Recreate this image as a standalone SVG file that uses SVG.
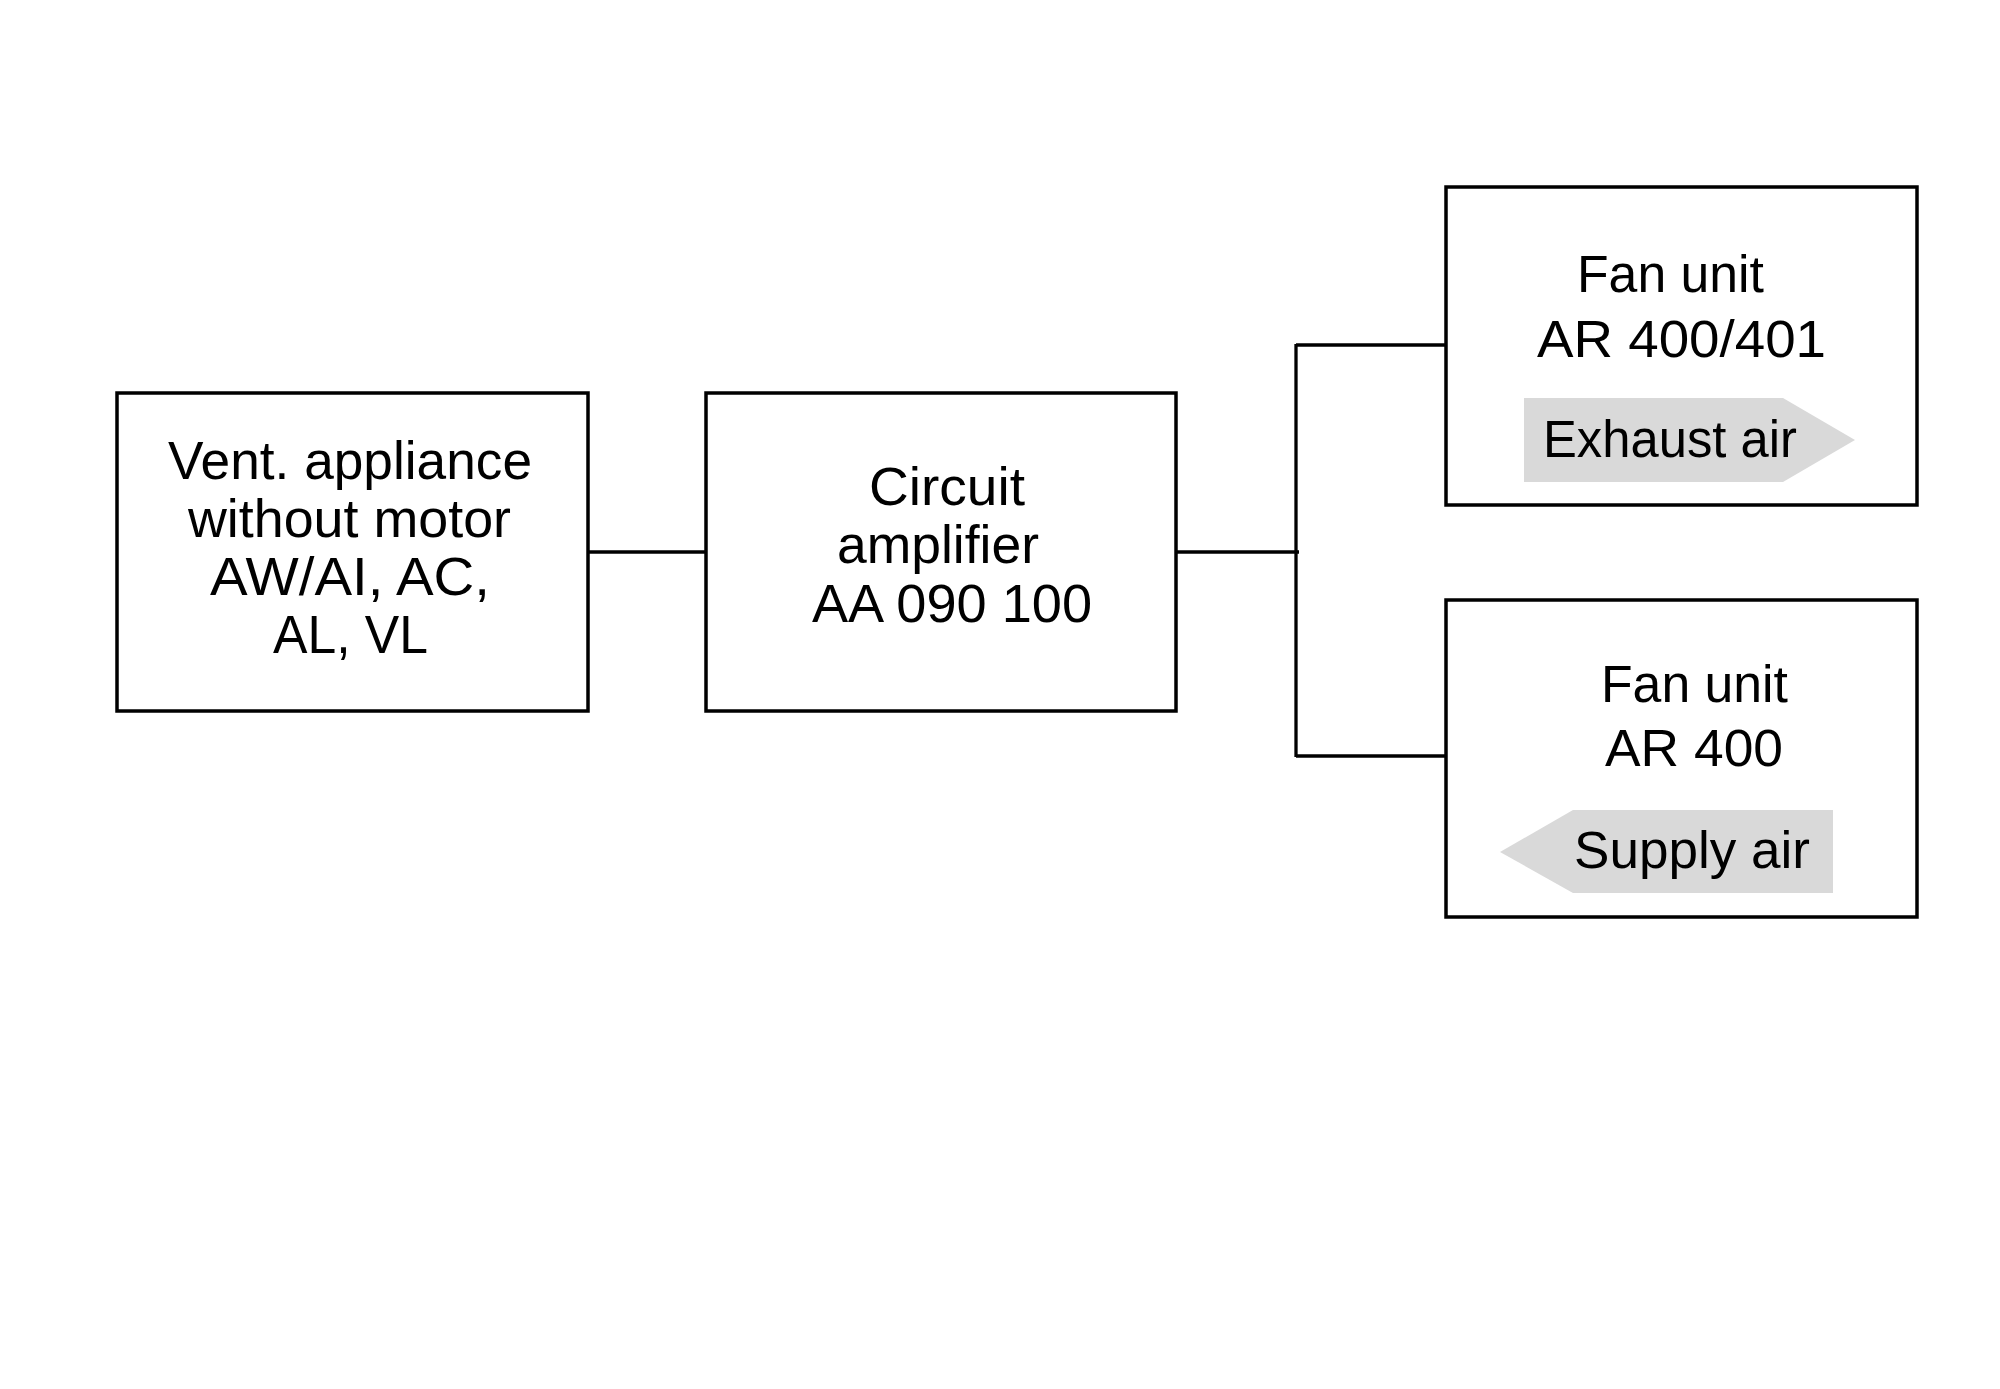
<svg xmlns="http://www.w3.org/2000/svg" width="2000" height="1389" viewBox="0 0 2000 1389">
<style>
.box{fill:#fff;stroke:#000;stroke-width:3.5}
.ln{fill:none;stroke:#000;stroke-width:3.3}
.t{font-family:"Liberation Sans",Arial,sans-serif;fill:#000}
.b{font-size:53px}
.f{font-size:51px}
.arr{fill:#d9d9d9}
</style>
<rect width="2000" height="1389" fill="#fff"/>
<g id="connectors">
<line class="ln" x1="588" y1="552" x2="706" y2="552"/>
<line class="ln" x1="1176" y1="552" x2="1299" y2="552"/>
<line class="ln" x1="1296" y1="344" x2="1296" y2="757"/>
<line class="ln" x1="1296" y1="345" x2="1446" y2="345"/>
<line class="ln" x1="1296" y1="756" x2="1446" y2="756"/>
</g>
<g id="vent-appliance">
<rect class="box" x="117" y="393" width="471" height="318"/>
<text class="t b" x="168" y="479" textLength="364" lengthAdjust="spacingAndGlyphs">Vent. appliance</text>
<text class="t b" x="188" y="537" textLength="323" lengthAdjust="spacingAndGlyphs">without motor</text>
<text class="t b" x="210" y="595" textLength="280" lengthAdjust="spacingAndGlyphs">AW/AI, AC,</text>
<text class="t b" x="273" y="653" textLength="155" lengthAdjust="spacingAndGlyphs">AL, VL</text>
</g>
<g id="circuit-amplifier">
<rect class="box" x="706" y="393" width="470" height="318"/>
<text class="t b" x="869" y="505" textLength="156" lengthAdjust="spacingAndGlyphs">Circuit</text>
<text class="t b" x="837" y="563" textLength="202" lengthAdjust="spacingAndGlyphs">amplifier</text>
<text class="t b" x="812" y="622" textLength="280" lengthAdjust="spacingAndGlyphs">AA 090 100</text>
</g>
<g id="fan-unit-exhaust">
<rect class="box" x="1446" y="187" width="471" height="318"/>
<text class="t f" x="1577" y="292" textLength="187" lengthAdjust="spacingAndGlyphs">Fan unit</text>
<text class="t f" x="1537" y="357" textLength="289" lengthAdjust="spacingAndGlyphs">AR 400/401</text>
<polygon class="arr" points="1524,398 1783,398 1855,440 1783,482 1524,482"/>
<text class="t f" x="1543" y="457" textLength="254" lengthAdjust="spacingAndGlyphs">Exhaust air</text>
</g>
<g id="fan-unit-supply">
<rect class="box" x="1446" y="600" width="471" height="317"/>
<text class="t f" x="1601" y="702" textLength="187" lengthAdjust="spacingAndGlyphs">Fan unit</text>
<text class="t f" x="1605" y="766" textLength="178" lengthAdjust="spacingAndGlyphs">AR 400</text>
<polygon class="arr" points="1833,810 1573,810 1500,852 1573,893 1833,893"/>
<text class="t f" x="1574" y="868" textLength="236" lengthAdjust="spacingAndGlyphs">Supply air</text>
</g>
</svg>
